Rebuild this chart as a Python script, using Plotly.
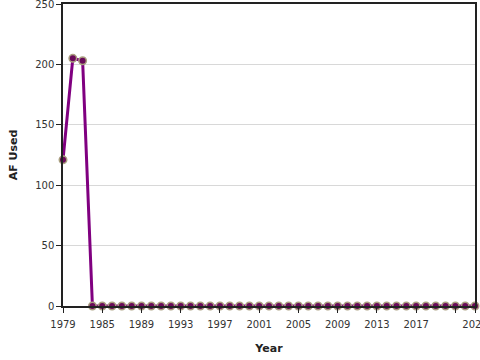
import plotly.graph_objects as go

years = [1979, 1980, 1981, 1984] + list(range(1985, 2024))
af_used = [121, 205, 203] + [0] * (len(years) - 3)
tick_years = [1979, 1985, 1989, 1993, 1997, 2001, 2005, 2009, 2013, 2017, 2021, 2023]
tick_labels = ["1979", "1985", "1989", "1993", "1997", "2001", "2005", "2009", "2013", "2017", "", "2023"]

cats = [str(y) for y in years]

fig = go.Figure(go.Scatter(
    x=cats, y=af_used, mode="lines+markers",
    line=dict(color="#800080", width=3),
    marker=dict(color="#6a0a5a", size=7.5, line=dict(color="#aaa080", width=1.5)),
    cliponaxis=False,
))

fig.update_layout(
    width=480, height=360,
    margin=dict(l=63, r=5, t=4, b=54),
    plot_bgcolor="white", paper_bgcolor="white",
    font=dict(family="DejaVu Sans", size=10, color="#333"),
    showlegend=False,
)
fig.update_xaxes(
    type="category", range=[0, len(cats) - 1], automargin=False,
    tickvals=[str(y) for y in tick_years], ticktext=tick_labels,
    ticklabeloverflow="allow", ticklabelstandoff=3,
    ticks="outside", ticklen=5, tickcolor="#222",
    showline=True, linecolor="#222", linewidth=1.5, mirror=True,
    showgrid=False,
    title=dict(text="<b>Year</b>", font=dict(size=11, color="#222"), standoff=16),
)
fig.update_yaxes(
    range=[0, 250], dtick=50, automargin=False,
    ticklabeloverflow="allow",
    ticks="outside", ticklen=5, tickcolor="#222",
    showline=True, linecolor="#222", linewidth=1.5, mirror=True,
    showgrid=True, gridcolor="#d8d8d8", zeroline=False,
    title=dict(text="<b>AF Used</b>", font=dict(size=11, color="#222"), standoff=15),
)

fig.write_html("out.html", config={"displayModeBar": False},
               post_script="document.body.style.margin='0';")
